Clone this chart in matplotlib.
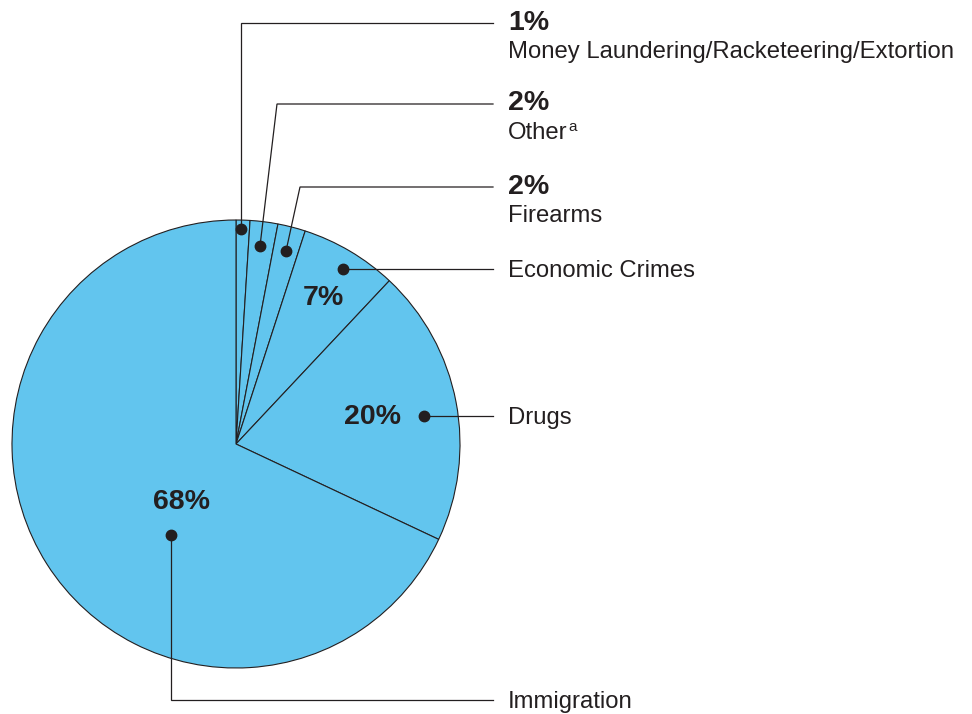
import matplotlib
matplotlib.use("Agg")
import matplotlib.pyplot as plt

plt.rcParams["font.family"] = ["Liberation Sans", "DejaVu Sans"]

# data (clockwise from 12 o'clock)
categories = [
    "Money Laundering/Racketeering/Extortion",
    "Other",
    "Firearms",
    "Economic Crimes",
    "Drugs",
    "Immigration",
]
footnotes = ["", "a", "", "", "", ""]
shares = [1, 2, 2, 7, 20, 68]
pct_labels = [f"{v}%" for v in shares]

FILL = "#62C5EE"
INK = "#231F20"

fig = plt.figure(figsize=(9.72, 7.14), dpi=100)
ax = fig.add_axes([0, 0, 1, 1])

# y axis is flipped (pixel-like coords), so counterclock=True draws clockwise on screen
cx, cy, r = 236, 444, 224
ax.pie(shares, startangle=-90, counterclock=True, center=(cx, cy), radius=r,
       colors=[FILL] * len(shares),
       wedgeprops=dict(edgecolor=INK, linewidth=0.8))
ax.set_xlim(0, 972)
ax.set_ylim(714, 0)
ax.set_aspect("equal")
ax.axis("off")

# leader lines: dot -> (elbow) -> x_end, label on the right
x_end, x_txt = 493, 508
leaders = [
    [(241, 229), (241, 23), (x_end, 23)],
    [(260, 246), (277, 104), (x_end, 104)],
    [(286, 251), (300, 187), (x_end, 187)],
    [(343, 269), (x_end, 269)],
    [(424, 416), (x_end, 416)],
    [(171, 535), (171, 700), (x_end, 700)],
]
for pts in leaders:
    xs, ys = zip(*pts)
    ax.plot(xs, ys, color=INK, lw=0.9, solid_joinstyle="miter")
    ax.plot(xs[0], ys[0], "o", color=INK, ms=7.5)

lab_kw = dict(color=INK, fontsize=17.2, ha="left", va="center")
pct_kw = dict(color=INK, fontsize=20.5, fontweight="bold", ha="left", va="center")

label_texts = []
# small slices: bold share above the category name
for i in range(3):
    y0 = leaders[i][-1][1]
    ax.text(x_txt, y0 - 0.5, pct_labels[i], **pct_kw)
    label_texts.append(ax.text(x_txt, y0 + 29, categories[i], **lab_kw))

for i in range(3, 6):
    label_texts.append(ax.text(x_txt, leaders[i][-1][1] + 2, categories[i], **lab_kw))

for t, note in zip(label_texts, footnotes):
    if note:
        ax.annotate(note, xy=(1.0, 0.88), xycoords=t, xytext=(0.3, 3.5),
                    textcoords="offset points", color=INK, fontsize=11,
                    ha="left", va="top")

# shares printed inside the larger slices
inside = {3: (323, 298), 4: (372, 417), 5: (181, 502)}
for i, (x, y) in inside.items():
    ax.text(x, y, pct_labels[i], color=INK, fontsize=20.5, fontweight="bold",
            ha="center", va="center")

fig.savefig("out.png", dpi=100)
